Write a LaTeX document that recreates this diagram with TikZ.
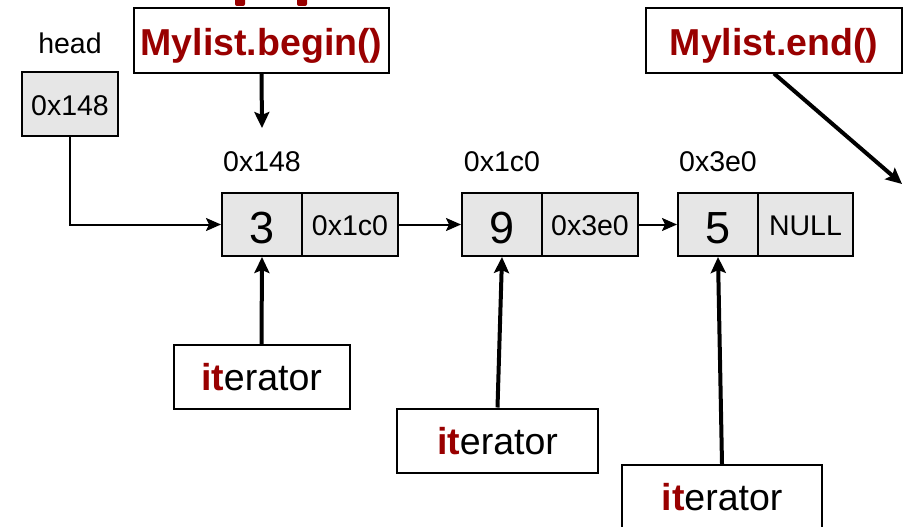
\documentclass[tikz,border=0pt]{standalone}
\usepackage{fontspec}
\setmainfont{Liberation Sans}
\usetikzlibrary{arrows.meta}
\definecolor{cellgray}{HTML}{E6E6E6}
\definecolor{darkred}{HTML}{990000}
\begin{document}
\begin{tikzpicture}[x=1pt,y=-1pt,
  cell/.style={draw, line width=2pt, fill=cellgray, minimum height=63pt, inner sep=0pt},
  wbox/.style={draw, line width=2pt, fill=white, inner sep=0pt, minimum height=64pt},
  smalltxt/.style={font=\fontsize{28.5}{30}\selectfont, text height=22pt, text depth=0pt},
  bigtxt/.style={font=\fontsize{37.5}{40}\selectfont, text height=27pt, text depth=0pt},
  digittxt/.style={font=\fontsize{45}{48}\selectfont, text height=38pt, text depth=0pt},
  ptr/.style={-{Stealth[length=15pt,width=13pt,inset=3pt]}, line width=2pt},
  heavy/.style={-{Stealth[length=16pt,width=15pt,inset=3pt]}, line width=4pt},
  redtxt/.style={text=darkred, font=\fontsize{37.5}{40}\selectfont\bfseries, text height=31pt, text depth=0pt}
]
\clip (0,0) rectangle (907,527);
\fill[white] (0,0) rectangle (907,527);
% fragments at the top edge
\fill[darkred, rounded corners=2pt] (235,-4) rectangle (245,6);
\fill[darkred, rounded corners=2pt] (297,-4) rectangle (307,6);

% head
\node[smalltxt] (headlbl) at (70,43) {head};
\node[cell, minimum width=96pt, minimum height=64pt, smalltxt] (hb) at (70,104) {0x148};

% Mylist boxes
\node[wbox, minimum width=255pt, redtxt] (beg) at (261.5,40.5) {Mylist.begin()};
\node[wbox, minimum width=256pt, redtxt] (endb) at (774,40.5) {Mylist.end()};
\coordinate (begtip) at (262,128);
\coordinate (endtip) at (902,184);

% address labels
\node[smalltxt] (a1) at (262,160) {0x148};
\node[smalltxt] (a2) at (502,160) {0x1c0};
\node[smalltxt] (a3) at (718,160) {0x3e0};

% list nodes
\node[cell, minimum width=80pt, digittxt] (n1a) at (262,224.5) {3};
\node[cell, minimum width=96pt, smalltxt] (n1b) at (350,224.5) {0x1c0};
\node[cell, minimum width=80pt, digittxt] (n2a) at (502,224.5) {9};
\node[cell, minimum width=96pt, smalltxt] (n2b) at (590,224.5) {0x3e0};
\node[cell, minimum width=80pt, digittxt] (n3a) at (718,224.5) {5};
\node[cell, minimum width=95pt, smalltxt] (n3b) at (805.5,224.5) {NULL};

% iterators
\node[wbox, minimum width=176pt, bigtxt] (it1) at (261.5,377) {\textcolor{darkred}{\bfseries it}erator};
\node[wbox, minimum width=201pt, bigtxt] (it2) at (497.5,440.5) {\textcolor{darkred}{\bfseries it}erator};
\node[wbox, minimum width=200pt, bigtxt] (it3) at (722,497) {\textcolor{darkred}{\bfseries it}erator};

% connectors
\draw[ptr] (hb.south) |- (n1a.west);
\draw[ptr] (n1b.east) -- (n2a.west);
\draw[ptr] (n2b.east) -- (n3a.west);
\draw[heavy] (beg.south) -- (begtip);
\draw[heavy] (endb.south) -- (endtip);
\draw[heavy] (it1.north) -- (n1a.south);
\draw[heavy] (it2.north) -- (n2a.south);
\draw[heavy] (it3.north) -- (n3a.south);
\end{tikzpicture}
\end{document}
